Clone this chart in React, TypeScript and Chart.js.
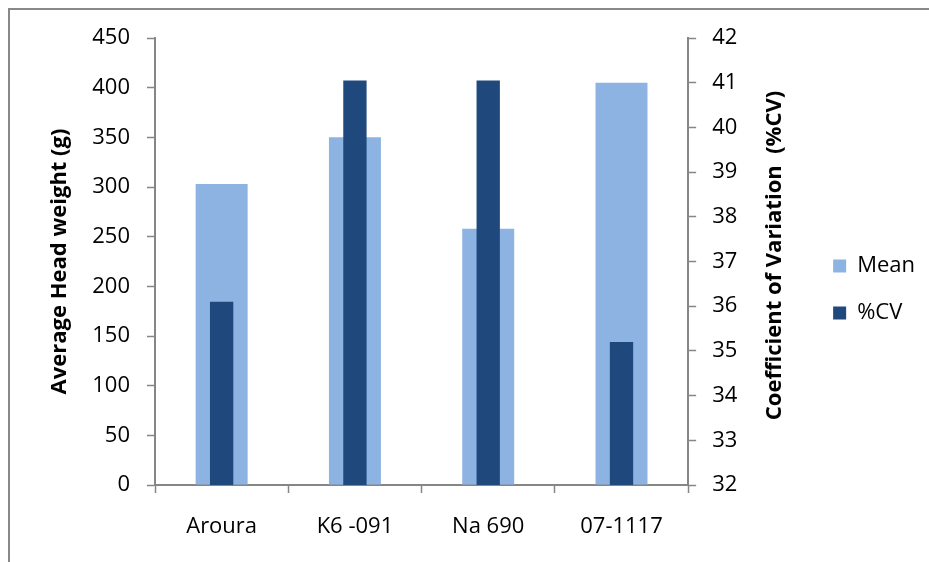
import React, { useEffect, useRef } from "react";
import { Chart, registerables } from "chart.js";

Chart.register(...registerables);

const categories = ["Aroura", "K6 -091", "Na 690", "07-1117"];
const meanValues = [303, 350, 258, 405];
const cvValues = [36.1, 41.05, 41.05, 35.2];
const leftTicks = { min: 0, max: 450, step: 50 };
const rightTicks = { min: 32, max: 42, step: 1 };

const FONT = "'Open Sans', sans-serif";
const AXIS = "#868686";

const rightTitlePlugin = {
  id: "rightTitle",
  afterDraw(chart: any) {
    const { ctx, chartArea } = chart;
    ctx.save();
    ctx.translate(chartArea.right + 87, (chartArea.top + chartArea.bottom) / 2 - 6);
    ctx.rotate(-Math.PI / 2);
    ctx.font = `bold 22px ${FONT}`;
    ctx.fillStyle = "#000";
    ctx.textAlign = "center";
    ctx.textBaseline = "middle";
    ctx.fillText("Coefficient of Variation  (%CV)", 0, 0);
    ctx.restore();
  },
};

export default function App() {
  const ref = useRef<HTMLCanvasElement>(null);
  useEffect(() => {
    const chart = new Chart(ref.current!, {
      type: "bar",
      data: {
        labels: categories,
        datasets: [
          {
            label: "%CV",
            data: cvValues,
            yAxisID: "y1",
            backgroundColor: "#1F497D",
            barPercentage: 0.175,
            categoryPercentage: 1,
            grouped: false,
          },
          {
            label: "Mean",
            data: meanValues,
            yAxisID: "y",
            backgroundColor: "#8DB3E2",
            barPercentage: 0.39,
            categoryPercentage: 1,
            grouped: false,
          },
        ],
      },
      options: {
        responsive: false,
        animation: false,
        layout: { padding: { left: 43, top: 38, right: 4, bottom: 21 } },
        plugins: {
          tooltip: { enabled: false },
          legend: {
            position: "right",
            labels: {
              boxWidth: 13,
              boxHeight: 13,
              padding: 25,
              color: "#000",
              font: { family: FONT, size: 22 },
              sort: (a: any, b: any) => b.datasetIndex - a.datasetIndex,
            },
          },
        },
        scales: {
          x: {
            grid: { drawOnChartArea: false, color: AXIS, tickLength: 8, tickWidth: 1.5 },
            border: { color: AXIS, width: 2 },
            ticks: { color: "#000", font: { family: FONT, size: 22 }, padding: 21 },
            afterFit: (s: any) => { s.height = 56; },
          },
          y: {
            position: "left",
            min: leftTicks.min,
            max: leftTicks.max,
            grid: { drawOnChartArea: false, color: AXIS, tickLength: 8, tickWidth: 1.5 },
            border: { color: AXIS, width: 2 },
            ticks: { stepSize: leftTicks.step, color: "#000", font: { family: FONT, size: 22 }, padding: 17 },
            title: {
              display: true,
              text: "Average Head weight (g)",
              color: "#000",
              font: { family: FONT, size: 22, weight: "bold" },
            },
            afterFit: (s: any) => { s.width = 112; },
          },
          y1: {
            position: "right",
            min: rightTicks.min,
            max: rightTicks.max,
            grid: { drawOnChartArea: false, color: AXIS, tickLength: 8, tickWidth: 1.5 },
            border: { color: AXIS, width: 2 },
            ticks: { stepSize: rightTicks.step, color: "#000", font: { family: FONT, size: 22 }, padding: 16 },
            afterFit: (s: any) => { s.width = 120; },
          },
        },
      },
      plugins: [rightTitlePlugin],
    });
    return () => chart.destroy();
  }, []);
  return (
    <div>
      <div
        style={{
          position: "absolute",
          left: 8,
          top: 8,
          width: 921,
          height: 554,
          boxSizing: "border-box",
          borderTop: "2px solid #888",
          borderLeft: "2px solid #888",
        }}
      />
      <canvas ref={ref} width={929} height={562} style={{ position: "absolute", left: 0, top: 0 }} />
    </div>
  );
}
